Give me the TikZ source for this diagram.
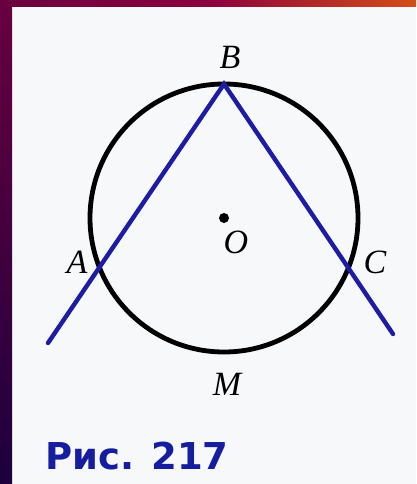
\documentclass[tikz,border=0pt]{standalone}
\usepackage{fontspec}
\setmainfont{Liberation Serif}
\newfontfamily\capfont{DejaVu Sans}
\definecolor{lineblue}{RGB}{28,28,165}
\definecolor{capblue}{RGB}{22,30,160}
\definecolor{paper}{RGB}{247,248,250}
\definecolor{frameA}{RGB}{105,0,62}
\definecolor{frameB}{RGB}{140,0,62}
\definecolor{frameC}{RGB}{212,78,22}
\definecolor{frameD}{RGB}{28,0,62}
\begin{document}
\begin{tikzpicture}[x=1pt,y=-1pt,
  lbl/.style={font=\fontsize{34}{34}\selectfont\itshape, inner sep=0pt},
  chord/.style={draw=lineblue, line width=4.4pt, line cap=round, line join=miter},
  circ/.style={draw=black, line width=4.8pt}]
\useasboundingbox (0,0) rectangle (416,484);
% background
\fill[paper] (0,0) rectangle (416,484);
\shade[top color=frameA, bottom color=frameD] (0,0) rectangle (12,484);
\shade[left color=frameA, right color=frameC, middle color=frameB] (0,0) rectangle (416,7);
% geometry
\coordinate (O) at (224,218);
\coordinate (B) at (224,84);
\coordinate (Lend) at (48,343);
\coordinate (Rend) at (393,334);
\draw[circ] (O) circle[radius=134];
\draw[chord] (Lend) -- (B) -- (Rend);
\fill (O) circle[radius=5];
% labels
\node[lbl] (lB) at (230,57) {B};
\node[lbl] (lA) at (77,262) {A};
\node[lbl] (lC) at (375,262) {C};
\node[lbl] (lO) at (236,242) {O};
\node[lbl] (lM) at (227,384) {M};
\node[font=\capfont\bfseries\fontsize{37}{37}\selectfont, text=capblue, anchor=base west, inner sep=0pt] (cap) at (45,469) {Рис. 217};
\end{tikzpicture}
\end{document}
